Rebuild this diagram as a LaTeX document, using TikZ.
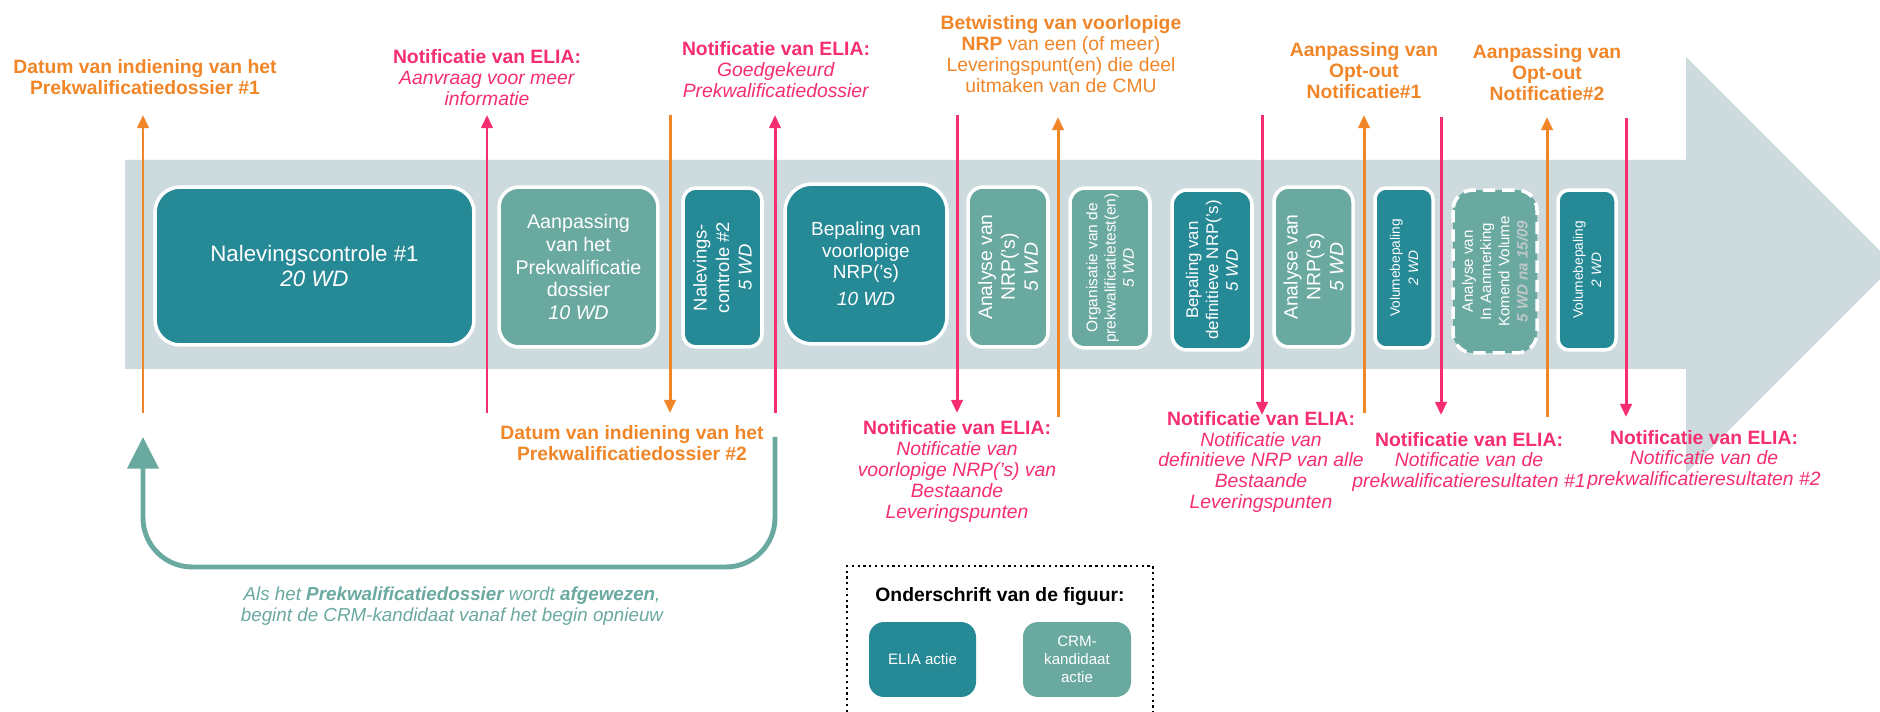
\documentclass[tikz,border=0pt]{standalone}
\usepackage{fontspec}
\setmainfont{Liberation Sans}
\usetikzlibrary{arrows.meta}
\definecolor{dteal}{RGB}{38,137,150}
\definecolor{lteal}{RGB}{106,169,160}
\definecolor{bandc}{RGB}{205,218,222}
\definecolor{orng}{RGB}{240,134,40}
\definecolor{pnk}{RGB}{246,46,112}
\definecolor{wdgray}{RGB}{190,200,200}
\begin{document}
\begin{tikzpicture}[x=0.02cm,y=-0.02cm,
  oline/.style={draw=orng, line width=1.7pt},
  pline/.style={draw=pnk, line width=1.7pt},
  tipped/.style={-{Triangle[length=7.5pt,width=6.5pt]}},
  olbl/.style={text=orng, align=center, inner sep=0pt, font=\fontsize{11}{11.9}\selectfont\bfseries},
  plbl/.style={text=pnk, align=center, inner sep=0pt, font=\fontsize{11}{11.9}\selectfont},
  abox/.style={draw=white, line width=2pt, text=white, align=center, inner sep=0pt},
  ebox/.style={abox, fill=dteal},
  cbox/.style={abox, fill=lteal},
  retarrow/.style={draw=lteal, line width=2.8pt, rounded corners=28pt, -{Triangle[length=18pt,width=17.5pt]}}
]
\useasboundingbox[fill=white] (0,0) rectangle (1880,712);
% big arrow band
\begin{scope}
\clip (0,0) rectangle (1880,712);
\fill[bandc] (125,160) -- (1686,160) -- (1686,57) -- (1894,265) -- (1686,473) -- (1686,369) -- (125,369) -- cycle;
\end{scope}

% boxes
\node[ebox, minimum width=6.38cm, minimum height=3.16cm, rounded corners=0.5cm,
      font=\fontsize{12.7}{14.2}\selectfont] (nal1) at (314.5,266)
      {Nalevingscontrole \#1\\\textit{20 WD}};
\node[cbox, minimum width=3.18cm, minimum height=3.2cm, rounded corners=0.4cm,
      font=\fontsize{11.2}{13}\selectfont] (aanp) at (578.5,267)
      {Aanpassing\\van het\\Prekwalificatie\\dossier\\\textit{10 WD}};
\node[ebox, rotate=90, minimum width=3.18cm, minimum height=1.58cm, rounded corners=0.26cm,
      font=\fontsize{10.5}{12.8}\selectfont] (nal2) at (722.5,267.5)
      {Nalevings-\\controle \#2\\\textit{5 WD}};
\node[ebox, minimum width=3.24cm, minimum height=3.2cm, rounded corners=0.54cm,
      font=\fontsize{10.8}{12.3}\selectfont] (bepv) at (866,264)
      {Bepaling van\\voorlopige\\NRP('s)\\[3pt]\textit{10 WD}};
\node[cbox, rotate=90, minimum width=3.2cm, minimum height=1.6cm, rounded corners=0.3cm,
      font=\fontsize{11}{13}\selectfont] (ana1) at (1008,267)
      {Analyse van\\NRP('s)\\\textit{5 WD}};
\node[cbox, rotate=90, minimum width=3.2cm, minimum height=1.6cm, rounded corners=0.3cm,
      font=\fontsize{8.8}{10.4}\selectfont] (org) at (1110,268)
      {Organisatie van de\\prekwalificatietest(en)\\\textit{5 WD}};
\node[ebox, rotate=90, minimum width=3.2cm, minimum height=1.6cm, rounded corners=0.3cm,
      font=\fontsize{9.6}{11.3}\selectfont] (bepd) at (1212,270)
      {Bepaling van\\definitieve NRP('s)\\\textit{5 WD}};
\node[cbox, rotate=90, minimum width=3.2cm, minimum height=1.58cm, rounded corners=0.3cm,
      font=\fontsize{11}{13}\selectfont] (ana2) at (1313.5,267)
      {Analyse van\\NRP('s)\\\textit{5 WD}};
\node[ebox, rotate=90, minimum width=3.2cm, minimum height=1.16cm, rounded corners=0.22cm,
      font=\fontsize{7.8}{10.3}\selectfont] (vol1) at (1404,268)
      {Volumebepaling\\\textit{2 WD}};
\node[cbox, dashed, dash pattern=on 7pt off 4pt, rotate=90, minimum width=3.26cm, minimum height=1.68cm, rounded corners=0.4cm,
      font=\fontsize{8.6}{10.4}\selectfont] (anav) at (1495,271.5)
      {Analyse van\\In Aanmerking\\Komend Volume\\\textcolor{wdgray}{\textbf{\textit{5 WD na 15/09}}}};
\node[ebox, rotate=90, minimum width=3.2cm, minimum height=1.16cm, rounded corners=0.22cm,
      font=\fontsize{7.8}{10.3}\selectfont] (vol2) at (1587,270)
      {Volumebepaling\\\textit{2 WD}};

% vertical markers
\coordinate (a1t) at (143,115);  \coordinate (a1b) at (143,413);
\coordinate (a2t) at (487,115);  \coordinate (a2b) at (487,413);
\coordinate (a3t) at (670,115);  \coordinate (a3b) at (670,413);
\coordinate (a4t) at (775,115);  \coordinate (a4b) at (775,413);
\coordinate (a5t) at (957,115);  \coordinate (a5b) at (957,413);
\coordinate (a6t) at (1058,117); \coordinate (a6b) at (1058,417);
\coordinate (a7t) at (1262,115); \coordinate (a7b) at (1262,415);
\coordinate (a8t) at (1364,115); \coordinate (a8b) at (1364,413);
\coordinate (a9t) at (1441,117); \coordinate (a9b) at (1441,415);
\coordinate (a10t) at (1547,117); \coordinate (a10b) at (1547,417);
\coordinate (a11t) at (1626,118); \coordinate (a11b) at (1626,417);
\draw[oline, tipped] (a1b) -- (a1t);
\draw[pline, tipped] (a2b) -- (a2t);
\draw[oline, tipped] (a3t) -- (a3b);
\draw[pline, tipped] (a4b) -- (a4t);
\draw[pline, tipped] (a5t) -- (a5b);
\draw[oline, tipped] (a6b) -- (a6t);
\draw[pline, tipped] (a7t) -- (a7b);
\draw[oline, tipped] (a8b) -- (a8t);
\draw[pline, tipped] (a9t) -- (a9b);
\draw[oline, tipped] (a10b) -- (a10t);
\draw[pline, tipped] (a11t) -- (a11b);

% top labels
\node[olbl] (l1) at (145,77.5) {Datum van indiening van het\\Prekwalificatiedossier \#1};
\node[plbl] (l2) at (487,78) {\textbf{Notificatie van ELIA:}\\\textit{Aanvraag voor meer}\\\textit{informatie}};
\node[plbl] (l3) at (776,70) {\textbf{Notificatie van ELIA:}\\\textit{Goedgekeurd}\\\textit{Prekwalificatiedossier}};
\node[plbl, text=orng] (l4) at (1061,54) {\textbf{Betwisting van voorlopige}\\\textbf{NRP} van een (of meer)\\Leveringspunt(en) die deel\\uitmaken van de CMU};
\node[olbl] (l5) at (1364,71) {Aanpassing van\\Opt-out\\Notificatie\#1};
\node[olbl] (l6) at (1547,72.5) {Aanpassing van\\Opt-out\\Notificatie\#2};

% bottom labels
\node[olbl] (b1) at (632,443.5) {Datum van indiening van het\\Prekwalificatiedossier \#2};
\node[plbl] (b2) at (957,471.5) {\textbf{Notificatie van ELIA:}\\\textit{Notificatie van}\\\textit{voorlopige NRP('s) van}\\\textit{Bestaande}\\\textit{Leveringspunten}};
\node[plbl] (b3) at (1261,462) {\textbf{Notificatie van ELIA:}\\\textit{Notificatie van}\\\textit{definitieve NRP van alle}\\\textit{Bestaande}\\\textit{Leveringspunten}};
\node[plbl] (b4) at (1469,462) {\textbf{Notificatie van ELIA:}\\\textit{Notificatie van de}\\\textit{prekwalificatieresultaten \#1}};
\node[plbl] (b5) at (1704,460) {\textbf{Notificatie van ELIA:}\\\textit{Notificatie van de}\\\textit{prekwalificatieresultaten \#2}};

% return arrow
\coordinate (rs) at (775,437);
\coordinate (re) at (143,437);
\draw[retarrow] (rs) -- ++(0,130) -| (re);
\node[text=lteal, align=center, inner sep=0pt, font=\fontsize{10.7}{11.6}\selectfont\itshape] (cap) at (452,606)
  {Als het \textbf{Prekwalificatiedossier} wordt \textbf{afgewezen},\\begint de CRM-kandidaat vanaf het begin opnieuw};

% legend
\draw[dotted, line width=1.3pt] (847,712) -- (847,566) -- (1153,566) -- (1153,712);
\node[inner sep=0pt, font=\fontsize{11}{12}\selectfont\bfseries] (legt) at (1000,597) {Onderschrift van de figuur:};
\node[ebox, draw=none, minimum width=2.14cm, minimum height=1.5cm, rounded corners=0.3cm,
      font=\fontsize{8.6}{10.2}\selectfont] (lege) at (922.5,659.5) {ELIA actie};
\node[cbox, draw=none, minimum width=2.16cm, minimum height=1.5cm, rounded corners=0.3cm,
      font=\fontsize{8.6}{10.2}\selectfont] (legc) at (1077,659.5) {CRM-\\kandidaat\\actie};
\end{tikzpicture}
\end{document}
